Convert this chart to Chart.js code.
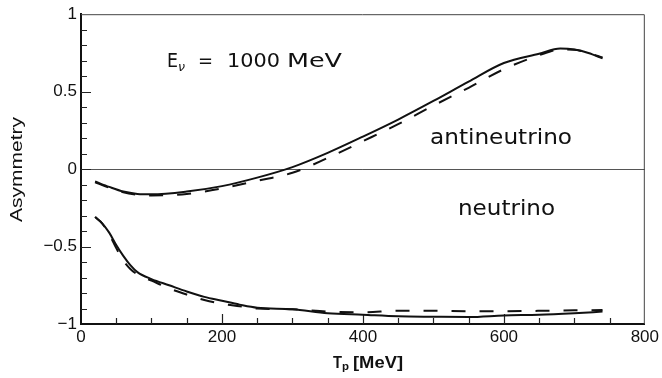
<!DOCTYPE html>
<html>
<head>
<meta charset="utf-8">
<script src="https://cdn.jsdelivr.net/npm/chart.js@4"></script>
<style>
  html, body { margin: 0; padding: 0; background: #fff; }
  #wrap { width: 662px; height: 378px; }
</style>
</head>
<body>
<div id="wrap"><canvas id="asymChart" width="662" height="378"></canvas></div>
<script>
// T_p values (MeV) and asymmetry readings
const antiX      = [20, 40, 60, 80, 100, 150, 200, 250, 300, 350, 400, 450, 500, 550, 600, 650, 680, 700, 720, 740];
const antiSolid  = [-0.08, -0.115, -0.145, -0.16, -0.163, -0.145, -0.11, -0.055, 0.013, 0.105, 0.21, 0.32, 0.44, 0.565, 0.685, 0.745, 0.778, 0.772, 0.75, 0.715];
const antiDashed = [-0.085, -0.12, -0.15, -0.165, -0.17, -0.16, -0.125, -0.075, -0.024, 0.072, 0.18, 0.29, 0.41, 0.525, 0.645, 0.735, 0.772, 0.77, 0.75, 0.72];

const nuX      = [20, 30, 40, 50, 60, 70, 80, 100, 125, 150, 175, 200, 225, 250, 300, 350, 400, 450, 500, 550, 600, 650, 700, 740];
const nuSolid  = [-0.31, -0.35, -0.41, -0.49, -0.56, -0.62, -0.665, -0.71, -0.75, -0.79, -0.825, -0.85, -0.875, -0.895, -0.905, -0.93, -0.94, -0.95, -0.953, -0.955, -0.945, -0.94, -0.93, -0.92];
const nuDashed = [-0.31, -0.35, -0.42, -0.51, -0.59, -0.645, -0.68, -0.72, -0.77, -0.81, -0.845, -0.87, -0.885, -0.9, -0.905, -0.92, -0.925, -0.915, -0.915, -0.918, -0.918, -0.915, -0.912, -0.91];

const xMajor = [200, 400, 600];
const xMinor = [50, 100, 150, 250, 300, 350, 450, 500, 550, 650, 700, 750];
const yMajor = [-0.5, 0, 0.5];
const yMinor = [-0.9, -0.8, -0.7, -0.6, -0.4, -0.3, -0.2, -0.1, 0.1, 0.2, 0.3, 0.4, 0.6, 0.7, 0.8, 0.9];

function pts(xs, ys) { return xs.map((x, i) => ({x: x, y: ys[i]})); }

function line(data, dashed) {
  return {
    data: data,
    borderColor: '#111',
    borderWidth: 2,
    borderDash: dashed ? [14, 14] : [],
    pointRadius: 0,
    fill: false,
    cubicInterpolationMode: 'monotone'
  };
}

// draw text squeezed/stretched to a given width
function drawFit(ctx, text, x, y, font, width) {
  ctx.font = font;
  const w = ctx.measureText(text).width;
  ctx.save();
  ctx.translate(x, y);
  ctx.scale(width / w, 1);
  ctx.fillText(text, 0, 0);
  ctx.restore();
}

const extras = {
  id: 'extras',
  beforeDatasetsDraw(chart) {
    const ctx = chart.ctx, a = chart.chartArea;
    const xs = chart.scales.x, ys = chart.scales.y;
    ctx.save();
    // zero line
    ctx.strokeStyle = '#555';
    ctx.lineWidth = 1;
    const y0 = Math.round(ys.getPixelForValue(0)) + 0.5;
    ctx.beginPath(); ctx.moveTo(a.left, y0); ctx.lineTo(a.right, y0); ctx.stroke();
    // top / right frame
    ctx.strokeStyle = '#444';
    ctx.beginPath();
    ctx.moveTo(a.left, a.top + 0.5); ctx.lineTo(a.right - 0.5, a.top + 0.5); ctx.lineTo(a.right - 0.5, a.bottom);
    ctx.stroke();
    // inward ticks
    ctx.strokeStyle = '#222';
    ctx.lineWidth = 1.2;
    ctx.beginPath();
    xMajor.forEach(v => { const p = Math.round(xs.getPixelForValue(v)) + 0.5; ctx.moveTo(p, a.bottom); ctx.lineTo(p, a.bottom - 10); });
    xMinor.forEach(v => { const p = Math.round(xs.getPixelForValue(v)) + 0.5; ctx.moveTo(p, a.bottom); ctx.lineTo(p, a.bottom - 6); });
    yMajor.forEach(v => { const p = Math.round(ys.getPixelForValue(v)) + 0.5; ctx.moveTo(a.left, p); ctx.lineTo(a.left + 10, p); });
    yMinor.forEach(v => { const p = Math.round(ys.getPixelForValue(v)) + 0.5; ctx.moveTo(a.left, p); ctx.lineTo(a.left + 6, p); });
    ctx.stroke();
    ctx.restore();
  },
  afterDraw(chart) {
    const ctx = chart.ctx;
    ctx.save();
    ctx.fillStyle = '#111';
    ctx.textBaseline = 'alphabetic';
    ctx.textAlign = 'left';
    const geo = '"DejaVu Sans", sans-serif';
    // E_nu = 1000 MeV
    drawFit(ctx, 'E', 167, 67, '19px ' + geo, 11);
    drawFit(ctx, 'ν', 178, 71, 'italic 13px ' + geo, 7);
    drawFit(ctx, '=', 198, 67, '19px ' + geo, 15);
    drawFit(ctx, '1000', 227, 67, '19px ' + geo, 53);
    drawFit(ctx, 'MeV', 287, 67, '19px ' + geo, 55);
    // curve labels
    drawFit(ctx, 'antineutrino', 430, 144, '22px ' + geo, 142);
    drawFit(ctx, 'neutrino', 458, 215, '22px ' + geo, 97);
    // x title
    const hb = 'bold 16px "Liberation Sans", Arial, sans-serif';
    drawFit(ctx, 'T', 333, 368, hb, 9);
    drawFit(ctx, 'p', 342, 370, 'bold 11px "Liberation Sans", Arial, sans-serif', 7);
    drawFit(ctx, '[MeV]', 353, 368, hb, 50);
    // y title
    ctx.save();
    ctx.translate(22, 222);
    ctx.rotate(-Math.PI / 2);
    drawFit(ctx, 'Asymmetry', 0, 0, '16px "Liberation Sans", Arial, sans-serif', 105);
    ctx.restore();
    ctx.restore();
  }
};

const tickFont = { family: '"Liberation Sans", Arial, sans-serif', size: 17 };

new Chart(document.getElementById('asymChart').getContext('2d'), {
  type: 'line',
  data: {
    datasets: [
      line(pts(antiX, antiSolid), false),
      line(pts(antiX, antiDashed), true),
      line(pts(nuX, nuSolid), false),
      line(pts(nuX, nuDashed), true)
    ]
  },
  options: {
    responsive: false,
    animation: false,
    events: [],
    layout: { padding: { top: 12, right: 15, left: 0, bottom: 0 } },
    plugins: { legend: { display: false }, tooltip: { enabled: false } },
    scales: {
      x: {
        type: 'linear', min: 0, max: 800,
        grid: { display: false, drawTicks: false },
        border: { display: true, color: '#111', width: 2 },
        ticks: { stepSize: 200, color: '#111', font: tickFont, padding: 3, maxRotation: 0 },
        afterFit: s => { s.height = 54; }
      },
      y: {
        min: -1, max: 1,
        grid: { display: false, drawTicks: false },
        border: { display: true, color: '#111', width: 2 },
        ticks: {
          stepSize: 0.5, color: '#111', font: tickFont, padding: 4,
          callback: v => v < 0 ? '\u2212' + Math.abs(v) : String(v)
        },
        afterFit: s => { s.width = 81; }
      }
    }
  },
  plugins: [extras]
});
</script>
</body>
</html>
